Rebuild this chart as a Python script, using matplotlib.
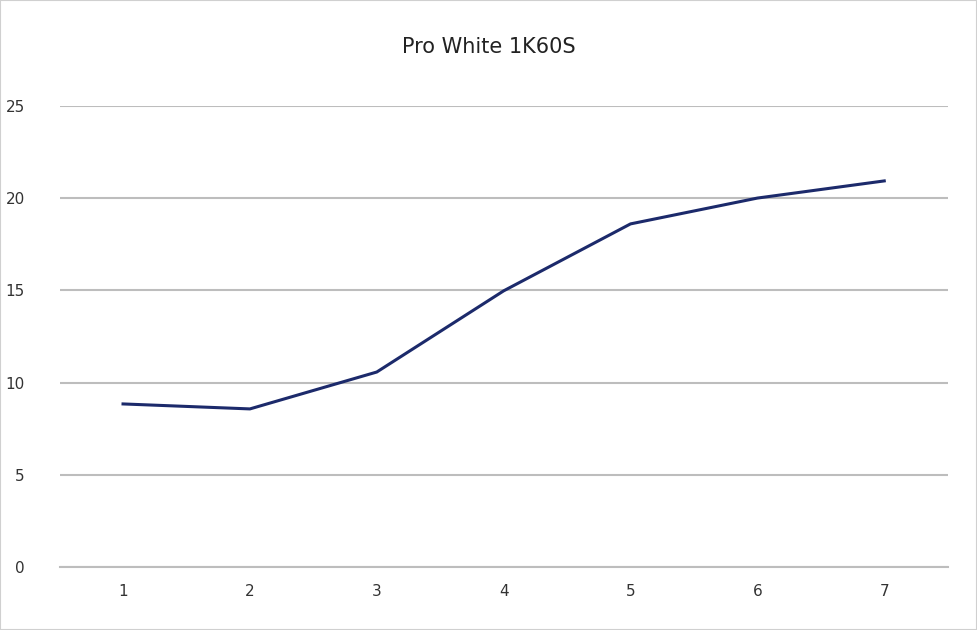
import matplotlib
matplotlib.use("Agg")
import matplotlib.pyplot as plt

categories = [1, 2, 3, 4, 5, 6, 7]
values = [8.84, 8.57, 10.57, 14.97, 18.6, 20.0, 20.93]
yticks = [0, 5, 10, 15, 20, 25]

fig = plt.figure(figsize=(9.77, 6.3), dpi=100)
ax = fig.add_axes([0.061, 0.1, 0.909, 0.732])
ax.plot(categories, values, color="#1c2a6b", linewidth=2.2)
ax.set_xlim(0.5, 7.5)
ax.set_ylim(0, 25)
ax.set_yticks(yticks)
ax.set_xticks(categories)
ax.grid(axis="y", color="#bdbdbd", linewidth=1.5)
ax.set_axisbelow(True)
for s in ["top", "right", "left"]:
    ax.spines[s].set_visible(False)
ax.spines["bottom"].set_color("#bdbdbd")
ax.spines["bottom"].set_linewidth(1.5)
ax.tick_params(length=0, labelsize=11, colors="#333333", pad=12)
ax.tick_params(axis="y", pad=25)
fig.text(0.5, 0.925, "Pro White 1K60S", ha="center", va="center", fontsize=15, color="#222222")
fig.patches.append(plt.Rectangle((0, 0), 1, 1, transform=fig.transFigure, fill=False, edgecolor="#d0d0d0", linewidth=1.5))
fig.savefig("out.png", dpi=100)
